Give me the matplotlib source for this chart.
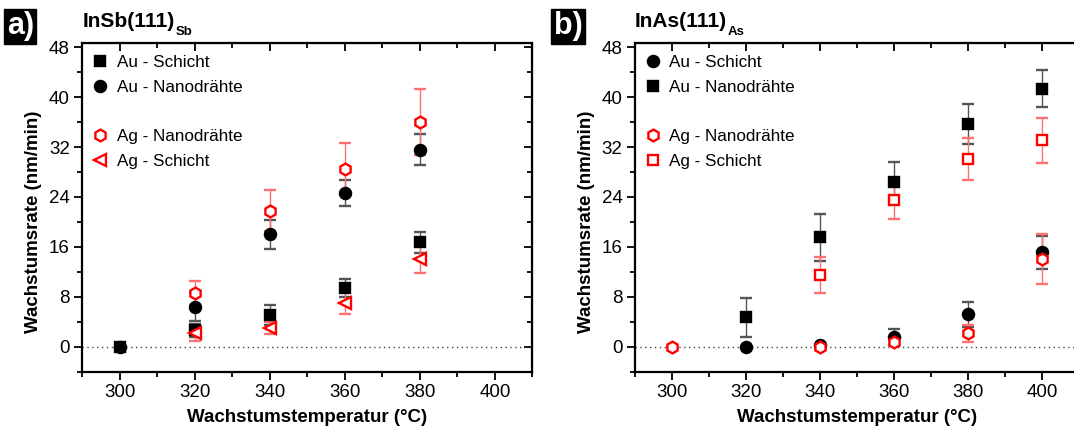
import numpy as np
import matplotlib
matplotlib.use('Agg')
import matplotlib.pyplot as plt
from matplotlib.ticker import MultipleLocator

plt.rcParams['font.family'] = ['Liberation Sans', 'DejaVu Sans']

# a) InSb(111)Sb
a_au_schicht_T = [300, 320, 340, 360, 380]
a_au_schicht = [0, 2.6, 5.0, 9.4, 16.7]
a_au_schicht_err = [0, 1.0, 1.6, 1.5, 1.7]
a_au_nano_T = [300, 320, 340, 360, 380]
a_au_nano = [0, 6.4, 18.0, 24.7, 31.6]
a_au_nano_err = [0, 2.3, 2.3, 2.1, 2.5]
a_ag_nano_T = [320, 340, 360, 380]
a_ag_nano = [8.6, 21.8, 28.5, 36.0]
a_ag_nano_err = [2.0, 3.3, 4.2, 5.3]
a_ag_schicht_T = [320, 340, 360, 380]
a_ag_schicht = [2.1, 3.0, 7.0, 14.0]
a_ag_schicht_err = [1.2, 1.0, 1.7, 2.2]

# b) InAs(111)As
b_au_schicht_T = [320, 340, 360, 380, 400]
b_au_schicht = [0, 0.3, 1.6, 5.2, 15.1]
b_au_schicht_err = [0, 0, 1.3, 2.0, 2.7]
b_au_nano_T = [320, 340, 360, 380, 400]
b_au_nano = [4.7, 17.5, 26.4, 35.7, 41.4]
b_au_nano_err = [3.1, 3.8, 3.2, 3.2, 3.0]
b_ag_nano_T = [300, 340, 360, 380, 400]
b_ag_nano = [0, 0, 0.8, 2.1, 14.0]
b_ag_nano_err = [0, 0, 0.5, 1.3, 4.0]
b_ag_schicht_T = [340, 360, 380, 400]
b_ag_schicht = [11.5, 23.5, 30.1, 33.1]
b_ag_schicht_err = [2.9, 3.1, 3.3, 3.6]

RED = '#ff0000'
ERR_BLACK = '#555555'
ERR_RED = '#ff7070'


def series(ax, T, y, err, marker, color, filled, ecolor, label):
    size = {'h': 8.5, '<': 8.5, 'o': 8.0, 's': 7.5}[marker]
    c = ax.errorbar(T, y, yerr=err, fmt=marker, ms=size,
                    mfc=color if filled else 'white', mec=color, mew=1.7,
                    ecolor=ecolor, elinewidth=1.0, capsize=4, capthick=1.0,
                    label=label, zorder=3)
    return c[0]


def style(ax, title, sub, tag, tag_x, right_ticks=True):
    ax.set_xlim(290, 410)
    ax.set_ylim(-4, 48.7)
    ax.axhline(0, color='#444444', ls=(0, (1, 2.5)), lw=1.0, zorder=1)
    ax.set_xticks([300, 320, 340, 360, 380, 400])
    ax.xaxis.set_minor_locator(MultipleLocator(10))
    ax.yaxis.set_major_locator(MultipleLocator(8))
    ax.yaxis.set_minor_locator(MultipleLocator(4))
    ax.tick_params(which='both', direction='out', width=1.3, labelsize=13.5,
                   top=False, right=False, pad=3)
    ax.tick_params(which='major', length=6)
    ax.tick_params(which='minor', length=3.5)
    for s in ax.spines.values():
        s.set_linewidth(1.6)
    # mirrored ticks pointing inwards on top and right
    top = ax.secondary_xaxis('top')
    top.xaxis.set_major_locator(MultipleLocator(20))
    top.xaxis.set_minor_locator(MultipleLocator(10))
    top.tick_params(which='both', direction='in', width=1.3, labeltop=False)
    top.tick_params(which='major', length=6)
    top.tick_params(which='minor', length=3.5)
    if right_ticks:
        right = ax.secondary_yaxis('right')
        right.yaxis.set_major_locator(MultipleLocator(8))
        right.yaxis.set_minor_locator(MultipleLocator(4))
        right.tick_params(which='both', direction='in', width=1.3, labelright=False)
        right.tick_params(which='major', length=6)
        right.tick_params(which='minor', length=3.5)
    ax.set_xlabel('Wachstumstemperatur (°C)', fontsize=13.5, fontweight='bold', labelpad=6)
    ax.set_ylabel('Wachstumsrate (nm/min)', fontsize=13.5, fontweight='bold')
    ax.yaxis.set_label_coords(-0.09, 0.455)
    t = ax.text(0.0, 1.05, title, transform=ax.transAxes,
                fontsize=15, fontweight='bold', ha='left', va='baseline')
    ax.annotate(sub, xy=(1, 0), xycoords=t, xytext=(0.5, 3.5), textcoords='offset points',
                fontsize=9.5, fontweight='bold', ha='left', va='top')
    ax.text(tag_x, 1.005, tag, transform=ax.transAxes, fontsize=22, fontweight='bold',
            color='white', ha='left', va='bottom',
            bbox=dict(boxstyle='square,pad=0.08', fc='black', ec='black'))


def legends(ax, h_au, l_au, h_ag, l_ag):
    kw = dict(frameon=False, fontsize=12.3, handlelength=0.8, handletextpad=0.55,
              labelspacing=0.6, borderaxespad=0.3, loc='upper left')
    leg1 = ax.legend(h_au, l_au, bbox_to_anchor=(-0.002, 1.0), **kw)
    ax.add_artist(leg1)
    ax.legend(h_ag, l_ag, bbox_to_anchor=(-0.002, 0.775), **kw)


fig = plt.figure(figsize=(10.74, 4.3), dpi=100)
ax1 = fig.add_axes([0.0768, 0.136, 0.419, 0.764])
ax2 = fig.add_axes([0.5912, 0.136, 0.4134, 0.764])

h1 = series(ax1, a_au_schicht_T, a_au_schicht, a_au_schicht_err, 's', 'black', True, ERR_BLACK, 'Au - Schicht')
h2 = series(ax1, a_au_nano_T, a_au_nano, a_au_nano_err, 'o', 'black', True, ERR_BLACK, 'Au - Nanodrähte')
h3 = series(ax1, a_ag_nano_T, a_ag_nano, a_ag_nano_err, 'h', RED, False, ERR_RED, 'Ag - Nanodrähte')
h4 = series(ax1, a_ag_schicht_T, a_ag_schicht, a_ag_schicht_err, '<', RED, False, ERR_RED, 'Ag - Schicht')
style(ax1, 'InSb(111)', 'Sb', 'a)', -0.168)
legends(ax1, [h1, h2], ['Au - Schicht', 'Au - Nanodrähte'], [h3, h4], ['Ag - Nanodrähte', 'Ag - Schicht'])

g1 = series(ax2, b_au_schicht_T, b_au_schicht, b_au_schicht_err, 'o', 'black', True, ERR_BLACK, 'Au - Schicht')
g2 = series(ax2, b_au_nano_T, b_au_nano, b_au_nano_err, 's', 'black', True, ERR_BLACK, 'Au - Nanodrähte')
g3 = series(ax2, b_ag_nano_T, b_ag_nano, b_ag_nano_err, 'h', RED, False, ERR_RED, 'Ag - Nanodrähte')
g4 = series(ax2, b_ag_schicht_T, b_ag_schicht, b_ag_schicht_err, 's', RED, False, ERR_RED, 'Ag - Schicht')
style(ax2, 'InAs(111)', 'As', 'b)', -0.183, right_ticks=False)
legends(ax2, [g1, g2], ['Au - Schicht', 'Au - Nanodrähte'], [g3, g4], ['Ag - Nanodrähte', 'Ag - Schicht'])

fig.savefig('out.png', dpi=100)
